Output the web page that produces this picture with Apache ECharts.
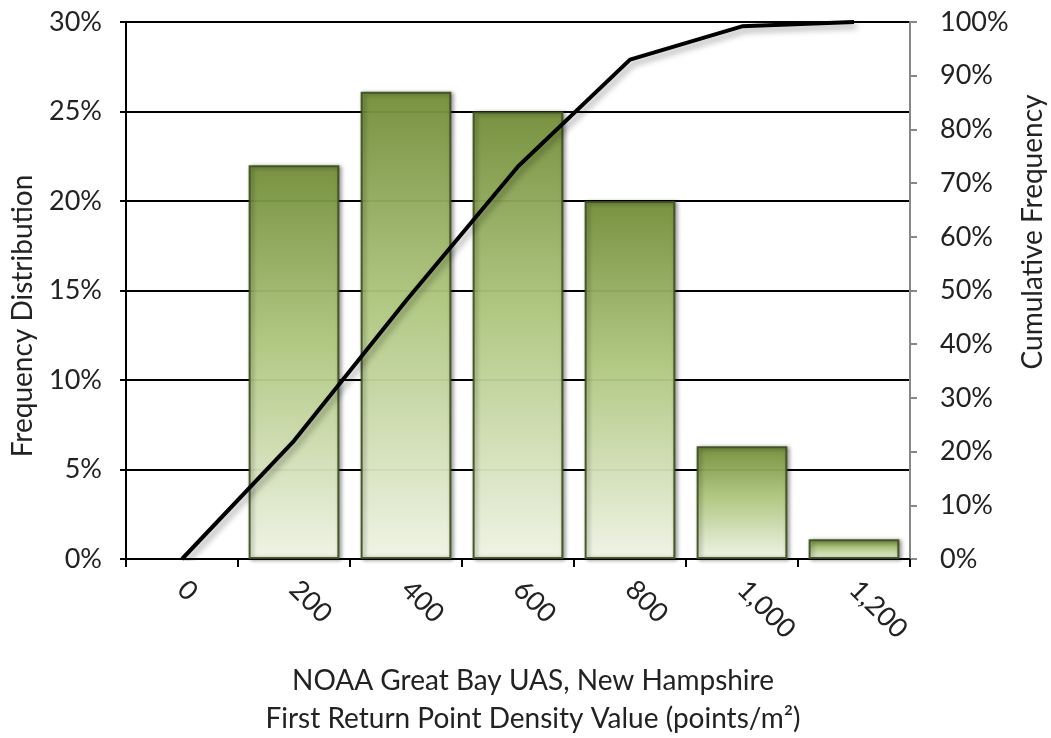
<!DOCTYPE html>
<html>
<head>
<meta charset="utf-8">
<script src="https://cdn.jsdelivr.net/npm/echarts@6/dist/echarts.min.js"></script>
<style>
  html, body { margin: 0; padding: 0; background: #fff; }
  #chart { width: 1051px; height: 738px; }
</style>
</head>
<body>
<div id="chart"></div>
<script>
// Point density bins (points/m²)
const categories = ['0', '200', '400', '600', '800', '1,000', '1,200'];
// Share of cells in each bin (%)
const frequency = [null, 22, 26.1, 25, 20, 6.3, 1.1];
// Running total (%)
const cumulative = [0, 22, 48.1, 73.1, 93, 99.2, 100];

const FONT = 'Lato, "Open Sans", sans-serif';
const TEXT = '#222';
const LABEL_SIZE = 27;
const TITLE_SIZE = 28;

const chart = echarts.init(document.getElementById('chart'));

const titleText = (text, x, y, rotation) => ({
  type: 'text', x, y, rotation,
  style: {
    text, font: TITLE_SIZE + 'px ' + FONT, fill: TEXT,
    align: 'center', verticalAlign: 'middle'
  }
});

chart.setOption({
  animation: false,
  backgroundColor: '#fff',
  grid: { left: 126, right: 141, top: 22, bottom: 179, containLabel: false },
  xAxis: {
    type: 'category',
    data: categories,
    axisLine: { lineStyle: { color: '#000', width: 2 } },
    axisTick: { show: true, length: 8, lineStyle: { color: '#000', width: 2 } },
    axisLabel: { rotate: -45, margin: 26, fontFamily: FONT, fontSize: LABEL_SIZE, color: TEXT }
  },
  yAxis: [
    {
      type: 'value',
      min: 0, max: 30, interval: 5,
      axisLine: { show: true, lineStyle: { color: '#000', width: 2 } },
      axisTick: { show: true, length: 6, lineStyle: { color: '#000', width: 2 } },
      axisLabel: { formatter: '{value}%', margin: 24, fontFamily: FONT, fontSize: LABEL_SIZE, color: TEXT },
      splitLine: { show: true, lineStyle: { color: '#000', width: 2 } }
    },
    {
      type: 'value',
      position: 'right',
      min: 0, max: 100, interval: 10,
      axisLine: { show: true, lineStyle: { color: '#888', width: 2 } },
      axisTick: { show: true, length: 7, lineStyle: { color: '#888', width: 2 } },
      axisLabel: { formatter: '{value}%', margin: 30, fontFamily: FONT, fontSize: LABEL_SIZE, color: TEXT },
      splitLine: { show: false }
    },
    {
      // inner half of the crossing ticks on the left axis
      type: 'value',
      position: 'left',
      min: 0, max: 30, interval: 5,
      axisLine: { show: false },
      axisTick: { show: true, inside: true, length: 6, lineStyle: { color: '#000', width: 2 } },
      axisLabel: { show: false },
      splitLine: { show: false }
    }
  ],
  graphic: [
    titleText('Frequency Distribution', 23, 316, Math.PI / 2),
    titleText('Cumulative Frequency', 1033, 232, Math.PI / 2),
    titleText('NOAA Great Bay UAS, New Hampshire', 533, 681, 0),
    titleText('First Return Point Density Value (points/m²)', 533, 719, 0)
  ],
  series: [
    {
      type: 'bar',
      data: frequency,
      yAxisIndex: 0,
      barCategoryGap: '19%',
      itemStyle: {
        opacity: 0.93,
        color: new echarts.graphic.LinearGradient(0, 0, 0, 1, [
          { offset: 0, color: '#76923b' },
          { offset: 0.45, color: '#b3cc82' },
          { offset: 1, color: '#f7fbec' }
        ]),
        borderColor: '#3e4f1e',
        borderWidth: 2,
        shadowColor: 'rgba(0,0,0,0.45)',
        shadowBlur: 4,
        shadowOffsetX: 2,
        shadowOffsetY: 1
      }
    },
    {
      type: 'line',
      data: cumulative,
      yAxisIndex: 1,
      symbol: 'none',
      lineStyle: {
        color: '#000',
        width: 4,
        shadowColor: 'rgba(0,0,0,0.35)',
        shadowBlur: 6,
        shadowOffsetX: 3,
        shadowOffsetY: 4
      },
      z: 5
    }
  ]
});
</script>
</body>
</html>
